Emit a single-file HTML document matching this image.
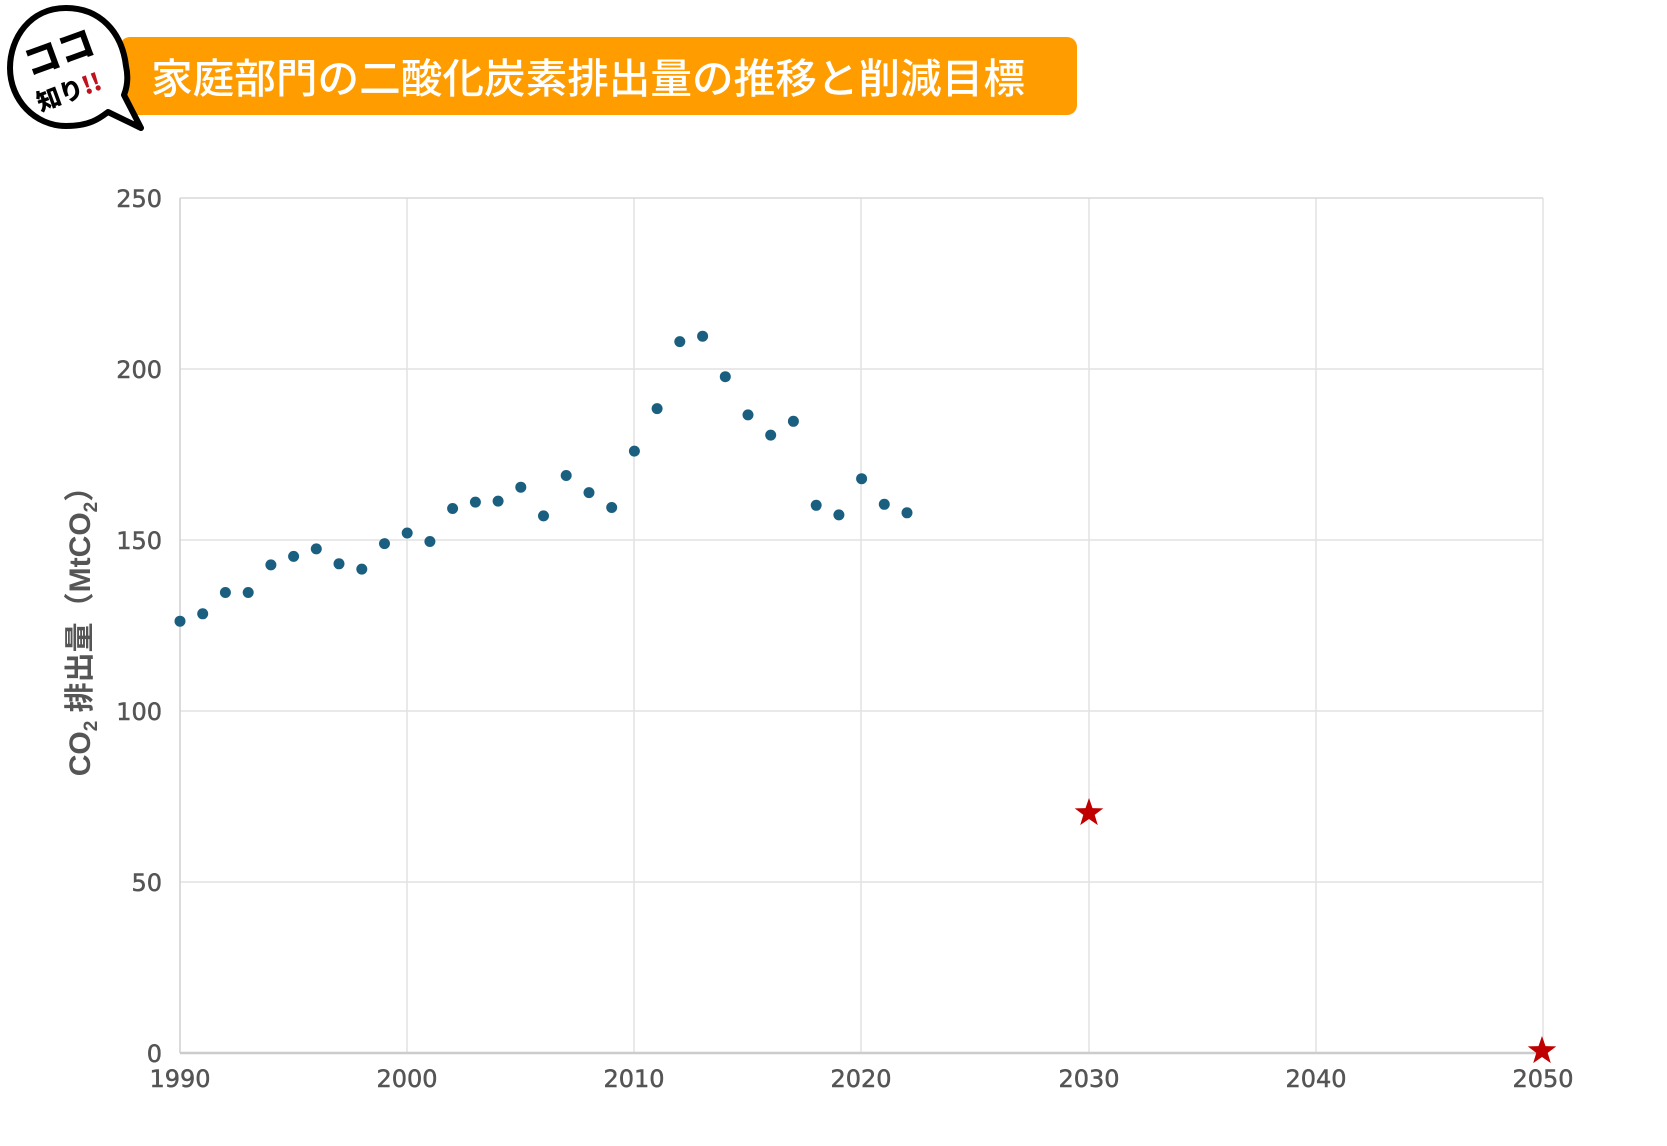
<!DOCTYPE html>
<html><head><meta charset="utf-8"><style>
html,body{margin:0;padding:0;background:#fff;}
svg{display:block;}
</style></head><body>
<svg width="1667" height="1146" viewBox="0 0 1667 1146" xmlns="http://www.w3.org/2000/svg" font-family="'Liberation Sans','Noto Sans CJK JP',sans-serif">
<rect width="1667" height="1146" fill="#fff"/>
<rect x="120" y="37" width="957" height="78" rx="10" fill="#ff9c00"/>
<text x="151" y="93" font-size="41" fill="#fff" font-weight="500" textLength="874" lengthAdjust="spacingAndGlyphs" font-family="'Noto Sans CJK JP',sans-serif">家庭部門の二酸化炭素排出量の推移と削減目標</text>
<path d="M66,8 C30,8 10,38 10,68 C10,100 35,126 66,126 C90,126 100,118 108,112 L141,128 L124,95 C128,85 128,75 126,66 C122,32 100,8 66,8 Z" fill="#fff" stroke="#000" stroke-width="6" stroke-linejoin="round"/>
<g transform="rotate(-20 66 66)">
<text x="64" y="64" font-size="36" font-weight="900" fill="#000" text-anchor="middle" font-family="'Noto Sans CJK JP',sans-serif">ココ</text>
<text x="60" y="100" font-size="24" font-weight="900" fill="#000" text-anchor="middle" font-family="'Noto Sans CJK JP',sans-serif">知り<tspan fill="#c0121e">!!</tspan></text>
</g>
<g stroke="#e2e2e2" stroke-width="1.5">
<line x1="180" y1="369" x2="1543" y2="369"/>
<line x1="180" y1="540" x2="1543" y2="540"/>
<line x1="180" y1="711" x2="1543" y2="711"/>
<line x1="180" y1="882" x2="1543" y2="882"/>
<line x1="407" y1="198" x2="407" y2="1053"/>
<line x1="634" y1="198" x2="634" y2="1053"/>
<line x1="861" y1="198" x2="861" y2="1053"/>
<line x1="1089" y1="198" x2="1089" y2="1053"/>
<line x1="1316" y1="198" x2="1316" y2="1053"/>
<line x1="1543" y1="198" x2="1543" y2="1053"/>
</g>
<line x1="180" y1="198" x2="1543" y2="198" stroke="#d8d8d8" stroke-width="1.5"/>
<line x1="180" y1="198" x2="180" y2="1053" stroke="#cfcfcf" stroke-width="1.5"/>
<line x1="180" y1="1053" x2="1543" y2="1053" stroke="#cccccc" stroke-width="2.5"/>
<g font-size="24" fill="#555" text-anchor="end" font-family="'DejaVu Sans','Liberation Sans',sans-serif" stroke="#555" stroke-width="0.5">
<text x="162" y="207">250</text>
<text x="162" y="378">200</text>
<text x="162" y="549">150</text>
<text x="162" y="720">100</text>
<text x="162" y="891">50</text>
<text x="162" y="1062">0</text>
</g>
<g font-size="24" fill="#555" text-anchor="middle" font-family="'DejaVu Sans','Liberation Sans',sans-serif" stroke="#555" stroke-width="0.5">
<text x="180" y="1087">1990</text>
<text x="407" y="1087">2000</text>
<text x="634" y="1087">2010</text>
<text x="861" y="1087">2020</text>
<text x="1089" y="1087">2030</text>
<text x="1316" y="1087">2040</text>
<text x="1543" y="1087">2050</text>
</g>
<text transform="translate(90 624) rotate(-90)" font-size="30" font-weight="bold" fill="#555" text-anchor="middle" font-family="'Liberation Sans','Noto Sans CJK JP',sans-serif">CO<tspan font-size="19" dy="7">2</tspan><tspan dy="-7"> 排出量（MtCO</tspan><tspan font-size="19" dy="7">2</tspan><tspan dy="-7">）</tspan></text>
<g fill="#1a5f80">
<circle cx="180" cy="621.2" r="5.5"/>
<circle cx="202.7" cy="613.8" r="5.5"/>
<circle cx="225.4" cy="592.5" r="5.5"/>
<circle cx="248.2" cy="592.5" r="5.5"/>
<circle cx="270.9" cy="564.9" r="5.5"/>
<circle cx="293.6" cy="556.4" r="5.5"/>
<circle cx="316.3" cy="548.9" r="5.5"/>
<circle cx="339" cy="563.8" r="5.5"/>
<circle cx="361.8" cy="569.1" r="5.5"/>
<circle cx="384.5" cy="543.6" r="5.5"/>
<circle cx="407.2" cy="533" r="5.5"/>
<circle cx="429.9" cy="541.5" r="5.5"/>
<circle cx="452.6" cy="508.5" r="5.5"/>
<circle cx="475.4" cy="502.1" r="5.5"/>
<circle cx="498.1" cy="501.1" r="5.5"/>
<circle cx="520.8" cy="487.2" r="5.5"/>
<circle cx="543.5" cy="515.9" r="5.5"/>
<circle cx="566.2" cy="475.5" r="5.5"/>
<circle cx="589" cy="492.6" r="5.5"/>
<circle cx="611.7" cy="507.5" r="5.5"/>
<circle cx="634.4" cy="451.1" r="5.5"/>
<circle cx="657.1" cy="408.6" r="5.5"/>
<circle cx="679.8" cy="341.6" r="5.5"/>
<circle cx="702.6" cy="336.2" r="5.5"/>
<circle cx="725.3" cy="376.7" r="5.5"/>
<circle cx="748" cy="414.9" r="5.5"/>
<circle cx="770.7" cy="435.1" r="5.5"/>
<circle cx="793.4" cy="421.3" r="5.5"/>
<circle cx="816.2" cy="505.3" r="5.5"/>
<circle cx="838.9" cy="514.9" r="5.5"/>
<circle cx="861.6" cy="478.7" r="5.5"/>
<circle cx="884.3" cy="504.3" r="5.5"/>
<circle cx="907" cy="512.8" r="5.5"/>
</g>
<g fill="#c00000">
<polygon transform="translate(1089 813)" points="0,-15 3.5,-4.9 14.3,-4.6 5.7,1.9 8.8,12.1 0,6 -8.8,12.1 -5.7,1.9 -14.3,-4.6 -3.5,-4.9"/>
<polygon transform="translate(1542 1051)" points="0,-15 3.5,-4.9 14.3,-4.6 5.7,1.9 8.8,12.1 0,6 -8.8,12.1 -5.7,1.9 -14.3,-4.6 -3.5,-4.9"/>
</g>
</svg>
</body></html>
